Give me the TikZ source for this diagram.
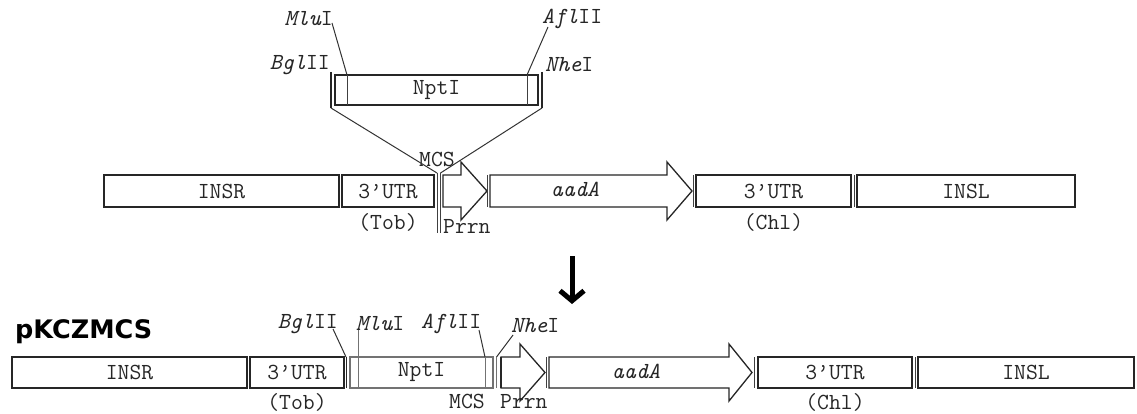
\documentclass[tikz,border=0pt]{standalone}
\usepackage{fontspec}
\newfontfamily\headfont{DejaVu Sans}
\usetikzlibrary{arrows.meta}

\begin{document}
\begin{tikzpicture}[x=1pt,y=-1pt,
  ink/.style={draw=black!85, line width=1.3pt},
  gbox/.style={ink, rectangle, inner sep=0pt, outer sep=0pt, text=black!85,
    font=\ttfamily\fontsize{23}{23}\selectfont},
  lbl/.style={inner sep=0pt, text=black!85, font=\ttfamily\fontsize{23}{23}\selectfont},
  lead/.style={draw=black!80, line width=1pt},
  bar/.style={draw=black!85, line width=2.4pt},
  thin/.style={draw=black!75, line width=1pt},
  faint/.style={draw=black!55, line width=1pt}]
\useasboundingbox (0,0) rectangle (1137,414);

% ---------------- insert fragment (NptI) ----------------
\node[gbox, minimum width=203pt, minimum height=30pt] (nptA) at (436.5,90) {NptI};
\draw[thin] (347,75) -- (347,105);
\draw[thin] (527,75) -- (527,105);
\coordinate (bglT) at (331,72);  \coordinate (bglB) at (331,108);
\coordinate (nheT) at (542,72);  \coordinate (nheB) at (542,108);
\draw[bar] (bglT) -- (bglB);
\draw[bar] (nheT) -- (nheB);

\node[lbl, anchor=east] (mluA) at (333,19) {{\itshape Mlu}I};
\node[lbl, anchor=east] (bglA) at (330,65) {{\itshape Bgl}II};
\node[lbl, anchor=west] (aflA) at (542,19) {{\itshape Afl}II};
\node[lbl, anchor=west] (nheA) at (545,65) {{\itshape Nhe}I};
\coordinate (mluP) at (347,75);
\coordinate (aflP) at (527,75);
\draw[lead] (332,23) -- (mluP);
\draw[lead] (548,27) -- (aflP);

% ---------------- upper construct ----------------
\node[gbox, minimum width=235pt, minimum height=32pt] (insrA) at (221.5,191) {INSR};
\node[gbox, minimum width=92pt, minimum height=32pt] (utrTobA) at (388,191) {3’UTR};
\node[lbl] (tobA) at (388,222) {(Tob)};

% MCS cut site
\coordinate (mcsL) at (437,173); \coordinate (mcsLb) at (437,233);
\coordinate (mcsR) at (440.5,173); \coordinate (mcsRb) at (440.5,233);
\draw[thin] (mcsL) -- (mcsLb);
\draw[thin] (mcsR) -- (mcsRb);
\node[lbl] (mcsA) at (437,159) {MCS};
\draw[lead] (bglB) -- (mcsL);
\draw[lead] (nheB) -- (mcsR);

% promoter arrow
\draw[ink, fill=white] (443,175) -- (461,175) -- (461,162) -- (487,191)
  -- (461,220) -- (461,207) -- (443,207) -- cycle;
\node[lbl, anchor=west] (prrnA) at (443,226) {Prrn};
\draw[thin] (487.5,175) -- (487.5,207);

% aadA arrow
\draw[ink, fill=white] (490,175) -- (667,175) -- (667,162) -- (692,191)
  -- (667,220) -- (667,207) -- (490,207) -- cycle;
\node[lbl] (aadA) at (575,189) {\itshape aadA};

\draw[thin] (693.5,175) -- (693.5,207);
\node[gbox, minimum width=155pt, minimum height=32pt] (utrChlA) at (773.5,191) {3’UTR};
\node[lbl] (chlA) at (773.5,222) {(Chl)};
\draw[thin] (854,175) -- (854,207);
\node[gbox, minimum width=218pt, minimum height=32pt] (inslA) at (966,191) {INSL};

% ---------------- step arrow ----------------
\coordinate (stepT) at (572,256);
\coordinate (stepB) at (572,304);
\draw[line width=5pt, black, -{Straight Barb[length=10pt,width=24pt,line width=5pt]}]
  (stepT) -- (stepB);

% ---------------- lower construct ----------------
\node[anchor=base west, inner sep=0pt,
  font=\headfont\bfseries\fontsize{25.5}{26}\selectfont] (title) at (15,338) {pKCZMCS};

\node[gbox, minimum width=235pt, minimum height=31pt] (insrB) at (129.5,372.5) {INSR};
\node[gbox, minimum width=94pt, minimum height=31pt] (utrTobB) at (297,372.5) {3’UTR};
\node[lbl] (tobB) at (297,402) {(Tob)};
\draw[bar, line width=1.8pt] (346.5,357) -- (346.5,388);

\node[gbox, draw=black!55, minimum width=143pt, minimum height=31pt] (nptB) at (421.5,372.5) {NptI};
\draw[faint] (496.5,357) -- (496.5,388);
\node[lbl] (mcsB) at (467,401) {MCS};

\node[lbl, anchor=east] (bglB2) at (338,324) {{\itshape Bgl}II};
\node[lbl, anchor=west] (mluB) at (356,324) {{\itshape Mlu}I};
\node[lbl, anchor=west] (aflB) at (421,324) {{\itshape Afl}II};
\node[lbl, anchor=west] (nheB2) at (511,326) {{\itshape Nhe}I};
\coordinate (bglPB) at (346,357);
\coordinate (mluPB) at (358,388);
\coordinate (aflPB) at (485,388);
\coordinate (nhePB) at (496.5,357);
\draw[lead] (333,329) -- (bglPB);
\draw[faint] (358,330) -- (mluPB);
\draw[lead] (479,330) -- (485,357);
\draw[faint] (485,357) -- (aflPB);
\draw[lead] (513,335) -- (nhePB);

% promoter arrow
\draw[ink, fill=white] (501,357) -- (520,357) -- (520,344) -- (545,372.5)
  -- (520,401) -- (520,388) -- (501,388) -- cycle;
\draw[ink, line width=1.8pt] (501,357) -- (501,388);
\node[lbl, anchor=base west] (prrnB) at (500,408) {Prrn};
\draw[thin] (546,357) -- (546,388);

% aadA arrow
\draw[ink, fill=white] (549,357) -- (729,357) -- (729,344) -- (752,372.5)
  -- (729,401) -- (729,388) -- (549,388) -- cycle;
\node[lbl] (aadB) at (636,371) {\itshape aadA};

\draw[thin] (754.5,357) -- (754.5,388);
\node[gbox, minimum width=154pt, minimum height=31pt] (utrChlB) at (835,372.5) {3’UTR};
\node[lbl] (chlB) at (835,402) {(Chl)};
\draw[thin] (915,357) -- (915,388);
\node[gbox, minimum width=216pt, minimum height=31pt] (inslB) at (1026,372.5) {INSL};
\end{tikzpicture}
\end{document}
